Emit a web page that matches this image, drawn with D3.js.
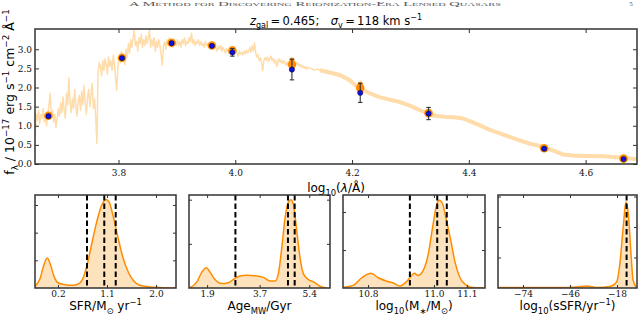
<!DOCTYPE html>
<html><head><meta charset="utf-8">
<script src="https://cdn.jsdelivr.net/npm/d3@7"></script>
<style>html,body{margin:0;padding:0;background:#fff;}svg{display:block;}</style>
</head><body>
<svg id="chart" width="640" height="316"></svg>
<script>
// ---------- DATA ----------
const specNoisy = [
[3.657,0.70],[3.659,1.30],[3.661,1.15],[3.663,1.40],[3.665,1.05],[3.667,1.30],[3.669,1.20],[3.671,1.45],[3.673,1.10],[3.675,1.25],
[3.677,1.00],[3.679,1.35],[3.681,1.55],[3.683,1.85],[3.685,1.30],[3.687,1.40],[3.689,1.10],[3.691,1.30],[3.693,0.95],[3.695,1.20],
[3.697,1.45],[3.699,1.25],[3.701,1.60],[3.703,1.35],[3.705,1.75],[3.707,1.40],[3.709,1.20],[3.711,1.85],[3.713,1.55],[3.715,2.25],
[3.717,1.60],[3.719,1.35],[3.721,1.70],[3.723,1.45],[3.725,1.95],[3.727,1.50],[3.729,1.25],[3.731,1.65],[3.733,1.80],[3.735,1.40],
[3.737,1.90],[3.739,1.55],[3.741,2.05],[3.743,1.60],[3.745,1.30],[3.747,1.75],[3.749,1.95],[3.751,1.50],[3.753,1.80],[3.755,2.10],
[3.757,1.45],[3.759,1.70],[3.761,1.20],[3.763,0.54],[3.765,2.40],[3.767,2.65],[3.769,2.55],[3.771,2.30],[3.773,2.70],[3.775,2.45],
[3.777,2.75],[3.779,2.60],[3.781,2.35],[3.783,2.80],[3.785,2.55],[3.787,2.70],[3.789,2.45],[3.791,2.85],[3.793,2.60],[3.795,2.25],
[3.797,1.93],[3.799,2.55],[3.801,2.80],[3.803,2.65],[3.805,2.95],[3.807,2.70],[3.809,2.85],[3.811,2.60],[3.813,3.00],[3.815,2.80],
[3.817,3.15],[3.819,2.90],[3.821,3.25],[3.823,3.05],[3.825,3.30],[3.827,3.50],[3.829,3.10],[3.831,3.20],[3.833,2.95],[3.835,3.30],
[3.837,3.15],[3.839,3.40],[3.841,3.05],[3.843,3.25],[3.845,3.10],[3.847,3.35],[3.849,3.15],[3.851,3.30],[3.853,3.50],[3.855,3.05],
[3.857,3.25],[3.859,3.10],[3.861,3.30],[3.863,2.95],[3.865,3.20],[3.867,3.05],[3.869,3.25],[3.871,3.10],[3.873,2.85],[3.875,2.58],
[3.877,3.10],[3.879,3.20],[3.881,3.00],[3.883,3.25],[3.885,3.10],[3.887,3.30],[3.889,3.15],[3.891,3.20],[3.893,3.05],[3.895,3.25],
[3.897,3.15],[3.899,3.10],[3.901,3.25],[3.903,3.10],[3.905,3.20],[3.907,3.05],[3.909,3.25],[3.911,3.15],[3.913,3.30],[3.915,3.10],
[3.917,3.20],[3.919,3.15],[3.921,3.30],[3.923,3.20],[3.925,3.42],[3.927,3.15],[3.929,3.25],[3.931,3.10],[3.933,3.20],[3.935,3.15],
[3.937,3.25],[3.939,3.10],[3.941,3.20],[3.943,3.10],[3.945,3.15],[3.947,3.05],[3.949,3.20],[3.951,3.10],[3.953,3.15],[3.955,3.05],
[3.957,3.12],[3.959,3.08],[3.961,3.15],[3.963,3.02],[3.965,3.10],[3.967,3.05],[3.969,2.95],[3.971,3.08],[3.973,3.00],[3.975,3.10],
[3.977,2.95],[3.979,3.05],[3.981,2.98],[3.983,2.90],[3.985,3.02],[3.987,2.95],[3.989,2.88],[3.991,3.00],[3.993,2.92],[3.995,2.85],
[3.997,2.95],[3.999,2.88],[4.001,2.98],[4.003,2.90],[4.005,2.82],[4.007,2.95],[4.009,2.88],[4.011,2.92],[4.013,2.85],[4.015,2.95],
[4.017,2.88],[4.019,2.98],[4.021,2.90],[4.023,2.95],[4.025,3.05],[4.027,2.92],[4.029,3.10],[4.031,2.95],[4.033,3.17],[4.035,2.90],
[4.037,2.80],[4.039,2.85],[4.041,2.70],[4.043,2.78],[4.045,2.65],[4.047,2.44],[4.049,2.70],[4.051,2.78],[4.053,2.72],[4.055,2.80],
[4.057,2.68],[4.059,2.75],[4.061,2.82],[4.063,2.70],[4.065,2.76],[4.067,2.64],[4.069,2.72],[4.071,2.55],[4.073,2.68],[4.075,2.75],
[4.077,2.66],[4.079,2.72],[4.081,2.62],[4.083,2.70],[4.085,2.65],[4.087,2.58],[4.089,2.66],[4.091,2.60],[4.093,2.68],[4.095,2.62],
[4.097,2.66],[4.099,2.58],[4.101,2.64],[4.103,2.60],[4.105,2.66],[4.107,2.58],[4.109,2.62],[4.111,2.55],[4.113,2.60],[4.115,2.52],
[4.117,2.56],[4.119,2.50],[4.121,2.54],[4.123,2.48],[4.125,2.52],[4.130,2.50],[4.135,2.45],[4.140,2.48],[4.145,2.45]
];
const specSmooth = [
[4.145,2.45],[4.160,2.40],[4.180,2.32],[4.195,2.20],[4.213,1.97],[4.230,1.85],[4.247,1.75],[4.265,1.68],[4.282,1.62],[4.300,1.52],
[4.316,1.41],[4.330,1.32],[4.338,1.27],[4.350,1.25],[4.361,1.23],[4.375,1.22],[4.390,1.19],[4.405,1.10],[4.419,1.01],[4.435,0.90],
[4.453,0.80],[4.470,0.71],[4.487,0.62],[4.505,0.53],[4.527,0.45],[4.545,0.35],[4.561,0.25],[4.578,0.22],[4.600,0.21],[4.630,0.20],
[4.658,0.17],[4.690,0.12]
];
const photLogLam   = [3.680, 3.806, 3.891, 3.960, 3.995, 4.097, 4.214, 4.331, 4.529, 4.665];
const photModel    = [1.26, 2.78, 3.17, 3.10, 2.97, 2.60, 1.99, 1.33, 0.41, 0.14];
const photModelErr = [0.02, 0.02, 0.02, 0.02, 0.03, 0.12, 0.10, 0.03, 0.01, 0.01];
const photObs      = [1.25, 2.77, 3.16, 3.09, 2.92, 2.47, 1.86, 1.32, 0.40, 0.13];
const photObsErr   = [0.02, 0.03, 0.03, 0.03, 0.10, 0.27, 0.25, 0.16, 0.02, 0.02];
const mainXTicks = [3.8, 4.0, 4.2, 4.4, 4.6];
const mainYTicks = [0.0, 0.5, 1.0, 1.5, 2.0, 2.5, 3.0];

const sfrDensity = [[-0.222,0.03],[-0.129,0.17],[-0.07,0.38],[0.003,0.54],[0.066,0.41],[0.127,0.21],[0.206,0.09],[0.33,0.06],[0.48,0.05],
 [0.60,0.09],[0.67,0.20],[0.733,0.41],[0.82,0.80],[0.91,1.19],[1.0,1.49],[1.08,1.60],[1.14,1.55],[1.21,1.31],[1.30,0.92],[1.39,0.56],
 [1.49,0.29],[1.58,0.14],[1.70,0.05],[1.89,0.02],[2.07,0.01],[2.367,0.0]];
const sfrQuantiles = [0.733, 1.05, 1.26];
const sfrTicks = [0.2, 1.1, 2.0];

const ageDensity = [[1.30,0.0],[1.55,0.07],[1.72,0.18],[1.87,0.23],[2.0,0.18],[2.17,0.095],[2.40,0.05],[2.63,0.06],[2.86,0.11],[3.03,0.135],
 [3.26,0.145],[3.54,0.14],[3.83,0.12],[4.06,0.08],[4.23,0.08],[4.34,0.16],[4.46,0.46],[4.57,0.79],[4.68,0.97],[4.77,1.0],[4.86,0.94],
 [4.97,0.65],[5.08,0.35],[5.20,0.16],[5.37,0.095],[5.54,0.07],[5.77,0.02],[6.0,0.0]];
const ageQuantiles = [2.87, 4.67, 4.90];
const ageTicks = [1.9, 3.7, 5.4];

const massDensity = [[10.726,0.02],[10.755,0.07],[10.781,0.27],[10.809,0.39],[10.831,0.27],[10.857,0.18],[10.877,0.13],[10.897,0.05],
 [10.912,0.13],[10.927,0.27],[10.94,0.39],[10.952,0.33],[10.968,0.47],[10.983,0.90],[10.996,1.60],[11.008,2.18],[11.016,2.31],
 [11.026,2.22],[11.038,1.78],[11.051,1.26],[11.064,0.68],[11.079,0.27],[11.099,0.07],[11.119,0.01],[11.15,0.0]];
const massQuantiles = [10.927, 11.01, 11.039];
const massTicks = [10.8, 11.0, 11.1];

const ssfrDensity = [[-88.7,0.02],[-75,0.02],[-60,0.02],[-48,0.02],[-42,0.03],[-36.1,0.065],[-30.1,0.02],[-22.2,0.05],[-18.2,0.2],
 [-16.3,0.8],[-14.3,2.0],[-12.7,2.82],[-11.1,2.33],[-9.7,1.13],[-8.4,0.25],[-6.4,0.02]];
const ssfrQuantiles = [-12.3];
const ssfrTicks = [-74, -46, -18];

// ---------- HELPERS ----------
const svg = d3.select('#chart');
const SANS = "'DejaVu Sans', sans-serif";
const SERIF = "'DejaVu Serif', serif";
const FRAME = '#333';

function rich(textSel, parts, size) {
  let off = 0;
  parts.forEach(p => {
    const target = p.s === 'sub' ? size * 0.3 : (p.s === 'sup' ? -size * 0.42 : 0);
    const ts = textSel.append('tspan').text(p.t)
      .attr('dy', (target - off).toFixed(2))
      .attr('font-size', p.s ? size * 0.7 : size);
    if (p.i) ts.attr('font-style', 'italic');
    off = target;
  });
}

function styleAxis(g, fontFamily, fontSize) {
  g.select('.domain').remove();
  g.selectAll('.tick line').attr('stroke', FRAME).attr('stroke-width', 1);
  g.selectAll('.tick text').attr('font-family', fontFamily).attr('font-size', fontSize).attr('fill', '#111');
}

// ---------- HEADER (page running head) ----------
svg.append('text').attr('x', 315).attr('y', 5.5).attr('text-anchor', 'middle')
  .attr('font-family', "'Liberation Serif', serif").attr('font-size', 7)
  .attr('textLength', 372).attr('lengthAdjust', 'spacingAndGlyphs')
  .attr('fill', '#555').style('font-variant', 'small-caps')
  .text('A Method for Discovering Reionization-Era Lensed Quasars');
svg.append('text').attr('x', 631).attr('y', 5.5).attr('text-anchor', 'middle')
  .attr('font-family', "'Liberation Serif', serif").attr('font-size', 7).attr('fill', '#555').text('5');

// ---------- MAIN PANEL ----------
const M = {l: 35, r: 637, t: 29, b: 164};
const x = d3.scaleLinear().domain([3.657, 4.688]).range([M.l, M.r]);
const y = d3.scaleLinear().domain([0, 3.53]).range([M.b, M.t]);

svg.append('clipPath').attr('id', 'clipMain').append('rect')
  .attr('x', M.l).attr('y', M.t).attr('width', M.r - M.l).attr('height', M.b - M.t);
const gMain = svg.append('g').attr('clip-path', 'url(#clipMain)');
const line = d3.line().x(d => x(d[0])).y(d => y(d[1]));
gMain.append('path').datum(specNoisy).attr('d', line)
  .attr('fill', 'none').attr('stroke', '#ffdcaa').attr('stroke-width', 1.5).attr('stroke-linejoin', 'round');
gMain.append('path').datum(specSmooth).attr('d', line)
  .attr('fill', 'none').attr('stroke', '#ffdcaa').attr('stroke-width', 4).attr('stroke-linejoin', 'round');

const phot = photLogLam.map((l, i) => ({l, m: photModel[i], me: photModelErr[i], o: photObs[i], oe: photObsErr[i]}));
gMain.selectAll('.merr').data(phot).join('line')
  .attr('x1', d => x(d.l)).attr('x2', d => x(d.l))
  .attr('y1', d => y(d.m - d.me)).attr('y2', d => y(d.m + d.me))
  .attr('stroke', '#ff8c00').attr('stroke-width', 5).attr('stroke-linecap', 'round');
gMain.selectAll('.mpt').data(phot).join('circle')
  .attr('cx', d => x(d.l)).attr('cy', d => y(d.m)).attr('r', 4.3).attr('fill', '#ff8c00');
const eb = gMain.selectAll('.oerr').data(phot).join('g').attr('stroke', '#333').attr('stroke-width', 1.1);
eb.append('line').attr('x1', d => x(d.l)).attr('x2', d => x(d.l))
  .attr('y1', d => y(d.o - d.oe)).attr('y2', d => y(d.o + d.oe));
eb.append('line').attr('x1', d => x(d.l) - 2.2).attr('x2', d => x(d.l) + 2.2)
  .attr('y1', d => y(d.o - d.oe)).attr('y2', d => y(d.o - d.oe));
eb.append('line').attr('x1', d => x(d.l) - 2.2).attr('x2', d => x(d.l) + 2.2)
  .attr('y1', d => y(d.o + d.oe)).attr('y2', d => y(d.o + d.oe));
gMain.selectAll('.opt').data(phot).join('circle')
  .attr('cx', d => x(d.l)).attr('cy', d => y(d.o)).attr('r', 2.6)
  .attr('fill', '#1010e0').attr('stroke', '#000033').attr('stroke-width', 0.5);

const gxb = svg.append('g').attr('transform', `translate(0,${M.b})`)
  .call(d3.axisBottom(x).tickValues(mainXTicks).tickFormat(d3.format('.1f')).tickSize(-4).tickPadding(5.5));
styleAxis(gxb, SERIF, 9);
const gxt = svg.append('g').attr('transform', `translate(0,${M.t})`)
  .call(d3.axisTop(x).tickValues(mainXTicks).tickFormat('').tickSize(-4));
styleAxis(gxt, SERIF, 9);
const gyl = svg.append('g').attr('transform', `translate(${M.l},0)`)
  .call(d3.axisLeft(y).tickValues(mainYTicks).tickFormat(d3.format('.1f')).tickSize(-4).tickPadding(3));
styleAxis(gyl, SERIF, 9);
const gyr = svg.append('g').attr('transform', `translate(${M.r},0)`)
  .call(d3.axisRight(y).tickValues(mainYTicks).tickFormat('').tickSize(-4));
styleAxis(gyr, SERIF, 9);
svg.append('rect').attr('x', M.l).attr('y', M.t).attr('width', M.r - M.l).attr('height', M.b - M.t)
  .attr('fill', 'none').attr('stroke', FRAME).attr('stroke-width', 1.5);

const title = svg.append('text').attr('x', (M.l + M.r) / 2).attr('y', 25).attr('text-anchor', 'middle')
  .attr('font-family', SANS).attr('fill', '#000');
rich(title, [{t: 'z', i: true}, {t: 'gal', s: 'sub'}, {t: '\u2009=\u20090.465;\u2003'}, {t: '\u03c3', i: true}, {t: 'v', s: 'sub'},
  {t: '\u2009=\u2009118 km s'}, {t: '\u22121', s: 'sup'}], 11.5);

const xl = svg.append('text').attr('x', (M.l + M.r) / 2).attr('y', 192).attr('text-anchor', 'middle')
  .attr('font-family', SANS).attr('fill', '#000');
rich(xl, [{t: 'log'}, {t: '10', s: 'sub'}, {t: '('}, {t: '\u03bb', i: true}, {t: '/\u00c5)'}], 12);

const yl = svg.append('text').attr('transform', 'translate(14,92) rotate(-90)').attr('text-anchor', 'middle')
  .attr('font-family', SANS).attr('fill', '#000');
rich(yl, [{t: 'f'}, {t: '\u03bb', s: 'sub'}, {t: ' / 10'}, {t: '\u221217', s: 'sup'}, {t: ' erg s'}, {t: '\u22121', s: 'sup'},
  {t: ' cm'}, {t: '\u22122', s: 'sup'}, {t: ' \u00c5'}, {t: '\u22121', s: 'sup'}], 12.5);

// ---------- POSTERIOR PANELS ----------
const PT = 195, PB = 288;
const panels = [
  {l: 35, r: 176, xd: [-0.222, 2.367], yd: [0, 1.68], yt: [0.5, 1.0, 1.5], data: sfrDensity, q: sfrQuantiles, ticks: sfrTicks, fmt: d3.format('.1f'),
   label: [{t: 'SFR/M'}, {t: '\u2299', s: 'sub'}, {t: ' yr'}, {t: '\u22121', s: 'sup'}]},
  {l: 189, r: 330, xd: [1.28, 6.11], yd: [0, 1.053], yt: [0.5, 1.0], data: ageDensity, q: ageQuantiles, ticks: ageTicks, fmt: d3.format('.1f'),
   label: [{t: 'Age'}, {t: 'MW', s: 'sub'}, {t: '/Gyr'}]},
  {l: 343, r: 485, xd: [10.724, 11.155], yd: [0, 2.45], yt: [1, 2], data: massDensity, q: massQuantiles, ticks: massTicks, fmt: d3.format('.1f'),
   label: [{t: 'log'}, {t: '10', s: 'sub'}, {t: '(M'}, {t: '\u2217', s: 'sub'}, {t: '/M'}, {t: '\u2299', s: 'sub'}, {t: ')'}]},
  {l: 498, r: 637, xd: [-88.9, -6.1], yd: [0, 3.05], yt: [1, 2, 3], data: ssfrDensity, q: ssfrQuantiles, ticks: ssfrTicks, fmt: d3.format('d'),
   label: [{t: 'log'}, {t: '10', s: 'sub'}, {t: '(sSFR/yr'}, {t: '\u22121', s: 'sup'}, {t: ')'}]}
];

panels.forEach((p, i) => {
  const px = d3.scaleLinear().domain(p.xd).range([p.l, p.r]);
  const py = d3.scaleLinear().domain(p.yd).range([PB, PT]);
  const cid = 'clipP' + i;
  svg.append('clipPath').attr('id', cid).append('rect').attr('x', p.l).attr('y', PT).attr('width', p.r - p.l).attr('height', PB - PT);
  const g = svg.append('g').attr('clip-path', `url(#${cid})`);
  const area = d3.area().x(d => px(d[0])).y0(py(0)).y1(d => py(d[1])).curve(d3.curveMonotoneX);
  const ln = d3.line().x(d => px(d[0])).y(d => py(d[1])).curve(d3.curveMonotoneX);
  g.append('path').datum(p.data).attr('d', area).attr('fill', '#fde3bd');
  g.append('path').datum(p.data).attr('d', ln).attr('fill', 'none').attr('stroke', '#ff8c00').attr('stroke-width', 1.5);
  g.selectAll('.q').data(p.q).join('line')
    .attr('x1', d => px(d)).attr('x2', d => px(d)).attr('y1', PT).attr('y2', PB)
    .attr('stroke', '#000').attr('stroke-width', 2).attr('stroke-dasharray', '5.5,3');

  const ab = svg.append('g').attr('transform', `translate(0,${PB})`)
    .call(d3.axisBottom(px).tickValues(p.ticks).tickFormat(p.fmt).tickSize(-3).tickPadding(3));
  styleAxis(ab, SERIF, 9);
  const at = svg.append('g').attr('transform', `translate(0,${PT})`)
    .call(d3.axisTop(px).tickValues(p.ticks).tickFormat('').tickSize(-3));
  styleAxis(at, SERIF, 9);
  const al = svg.append('g').attr('transform', `translate(${p.l},0)`)
    .call(d3.axisLeft(py).tickValues(p.yt).tickFormat('').tickSize(-3));
  styleAxis(al, SERIF, 9);
  const ar = svg.append('g').attr('transform', `translate(${p.r},0)`)
    .call(d3.axisRight(py).tickValues(p.yt).tickFormat('').tickSize(-3));
  styleAxis(ar, SERIF, 9);
  svg.append('rect').attr('x', p.l).attr('y', PT).attr('width', p.r - p.l).attr('height', PB - PT)
    .attr('fill', 'none').attr('stroke', FRAME).attr('stroke-width', 1.5);

  const lab = svg.append('text').attr('x', (p.l + p.r) / 2).attr('y', 310).attr('text-anchor', 'middle')
    .attr('font-family', SANS).attr('fill', '#000');
  rich(lab, p.label, 12);
});
</script>
</body></html>
